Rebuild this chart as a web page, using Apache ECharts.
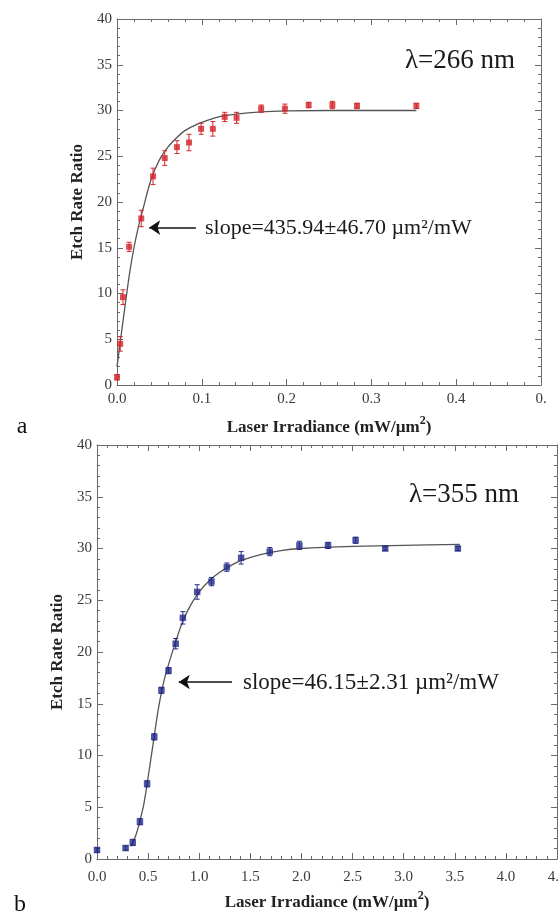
<!DOCTYPE html>
<html>
<head>
<meta charset="utf-8">
<script src="https://cdn.jsdelivr.net/npm/echarts@6/dist/echarts.min.js"></script>
<style>
html,body{margin:0;padding:0;background:#fff;}
#chart{width:559px;height:912px;}
</style>
</head>
<body>
<div id="chart"></div>
<script>
// ---- Panel a (λ = 266 nm) ----
const topX   = [0, 0.0038, 0.0071, 0.0143, 0.0286, 0.0425, 0.0563, 0.0707, 0.0849, 0.0992, 0.113, 0.127, 0.141, 0.170, 0.198, 0.226, 0.254, 0.283, 0.353];
const topY   = [0.85, 4.5, 9.6, 15.1, 18.2, 22.8, 24.8, 26.0, 26.5, 28.0, 28.0, 29.3, 29.2, 30.2, 30.2, 30.6, 30.6, 30.5, 30.5];
const topErr = [0.3, 0.8, 0.8, 0.5, 0.9, 0.9, 0.8, 0.7, 0.9, 0.6, 0.8, 0.5, 0.6, 0.4, 0.5, 0.3, 0.4, 0.3, 0.3];
const topFitX = [0, 0.005, 0.01, 0.015, 0.02, 0.025, 0.03, 0.04, 0.05, 0.06, 0.07, 0.08, 0.09, 0.10, 0.12, 0.14, 0.17, 0.20, 0.25, 0.30, 0.353];
const topFitY = [2.0, 5.5, 9.0, 12.3, 15.0, 17.2, 19.0, 22.4, 24.6, 26.0, 27.0, 27.8, 28.3, 28.7, 29.3, 29.6, 29.85, 29.95, 30.0, 30.0, 30.0];
const topXTicks = ['0.0', '0.1', '0.2', '0.3', '0.4', '0.'];

// ---- Panel b (λ = 355 nm) ----
const botX   = [0.0, 0.28, 0.35, 0.42, 0.49, 0.56, 0.63, 0.70, 0.77, 0.84, 0.98, 1.12, 1.27, 1.41, 1.69, 1.98, 2.26, 2.53, 2.82, 3.53];
const botY   = [0.87, 1.06, 1.6, 3.6, 7.26, 11.8, 16.3, 18.2, 20.8, 23.3, 25.8, 26.8, 28.2, 29.1, 29.7, 30.3, 30.3, 30.8, 30.0, 30.0];
const botErr = [0.2, 0.2, 0.3, 0.3, 0.3, 0.3, 0.3, 0.3, 0.5, 0.6, 0.7, 0.4, 0.4, 0.6, 0.4, 0.4, 0.3, 0.3, 0.2, 0.2];
const botFitX = [0.33, 0.38, 0.42, 0.46, 0.50, 0.55, 0.60, 0.65, 0.70, 0.77, 0.84, 0.92, 1.0, 1.1, 1.2, 1.3, 1.4, 1.6, 1.8, 2.0, 2.5, 3.0, 3.55];
const botFitY = [1.2, 2.3, 3.7, 5.4, 7.9, 11.2, 14.5, 17.0, 18.8, 21.0, 23.0, 24.6, 25.8, 26.9, 27.7, 28.3, 28.8, 29.4, 29.8, 30.0, 30.2, 30.3, 30.4];
const botXTicks = ['0.0', '0.5', '1.0', '1.5', '2.0', '2.5', '3.0', '3.5', '4.0', '4.5'];

const yTitle = 'Etch Rate Ratio';
const xTitle = 'Laser Irradiance (mW/µm{sup|2})';
const topLambda = 'λ=266 nm';
const botLambda = 'λ=355 nm';
const topSlope = 'slope=435.94±46.70 µm²/mW';
const botSlope = 'slope=46.15±2.31 µm²/mW';

const SERIF = '"Liberation Serif", "DejaVu Serif", serif';
const RED = '#d3262c';
const BLUE = '#232a88';
const AXIS = '#6a6a6a';

function zip(a, b, c) { return a.map((v, i) => c ? [v, b[i], c[i]] : [v, b[i]]); }

function errRender(color) {
  return function (params, api) {
    const x = api.value(0), y = api.value(1), e = api.value(2);
    const hi = api.coord([x, y + e]);
    const lo = api.coord([x, y - e]);
    const w = 2.5;
    const st = { stroke: color, lineWidth: 1 };
    return { type: 'group', children: [
      { type: 'line', shape: { x1: hi[0], y1: hi[1], x2: lo[0], y2: lo[1] }, style: st },
      { type: 'line', shape: { x1: hi[0] - w, y1: hi[1], x2: hi[0] + w, y2: hi[1] }, style: st },
      { type: 'line', shape: { x1: lo[0] - w, y1: lo[1], x2: lo[0] + w, y2: lo[1] }, style: st }
    ]};
  };
}

function xAxes(gridIndex, max, interval, labels, nameGap, labelMargin) {
  const common = {
    gridIndex, type: 'value', min: 0, max, interval,
    axisLine: { show: true, onZero: false, lineStyle: { color: AXIS, width: 1 } },
    axisTick: { show: true, inside: true, length: 6, lineStyle: { color: AXIS } },
    minorTick: { show: true, splitNumber: 5, length: 3, lineStyle: { color: AXIS } },
    splitLine: { show: false }
  };
  return [
    Object.assign({}, common, {
      position: 'bottom',
      axisLabel: { show: true, margin: labelMargin, fontFamily: SERIF, fontSize: 15, color: '#3a3a3a',
        hideOverlap: false, formatter: (v) => labels[Math.round(v / interval)] },
      name: xTitle, nameLocation: 'middle', nameGap,
      nameTextStyle: { fontFamily: SERIF, fontWeight: 'bold', fontSize: 17, color: '#222',
        rich: { sup: { fontFamily: SERIF, fontWeight: 'bold', fontSize: 12, color: '#222', verticalAlign: 'bottom', padding: [0, 0, 14, 0] } } }
    }),
    Object.assign({}, common, { position: 'top', axisLabel: { show: false } })
  ];
}

function yAxes(gridIndex, nameGap) {
  const common = {
    gridIndex, type: 'value', min: 0, max: 40, interval: 5,
    axisLine: { show: true, onZero: false, lineStyle: { color: AXIS, width: 1 } },
    axisTick: { show: true, inside: true, length: 6, lineStyle: { color: AXIS } },
    minorTick: { show: true, splitNumber: 5, length: 3, lineStyle: { color: AXIS } },
    splitLine: { show: false }
  };
  return [
    Object.assign({}, common, {
      position: 'left',
      axisLabel: { show: true, margin: 5, fontFamily: SERIF, fontSize: 15, color: '#3a3a3a' },
      name: yTitle, nameLocation: 'middle', nameGap, nameRotate: 90,
      nameTextStyle: { fontFamily: SERIF, fontWeight: 'bold', fontSize: 17, color: '#222' }
    }),
    Object.assign({}, common, { position: 'right', axisLabel: { show: false } })
  ];
}

const chart = echarts.init(document.getElementById('chart'), null, { renderer: 'canvas' });

const option = {
  animation: false,
  backgroundColor: '#fff',
  grid: [
    { left: 117, right: 18, top: 19, bottom: 527, containLabel: false, outerBoundsMode: 'none' },
    { left: 97, right: 2, top: 445, bottom: 53, containLabel: false, outerBoundsMode: 'none' }
  ],
  xAxis: [].concat(xAxes(0, 0.5, 0.1, topXTicks, 30, 7), xAxes(1, 4.5, 0.5, botXTicks, 31, 11)),
  yAxis: [].concat(yAxes(0, 30), yAxes(1, 28)),
  series: [
    { type: 'line', xAxisIndex: 0, yAxisIndex: 0, data: zip(topFitX, topFitY), smooth: 0.3,
      showSymbol: false, lineStyle: { color: '#555', width: 1.3 }, z: 2 },
    { type: 'custom', xAxisIndex: 0, yAxisIndex: 0, data: zip(topX, topY, topErr),
      renderItem: errRender(RED), z: 3 },
    { type: 'scatter', xAxisIndex: 0, yAxisIndex: 0, data: zip(topX, topY), symbol: 'rect',
      symbolSize: 6, itemStyle: { color: RED }, z: 4,
      markLine: { silent: true, symbol: ['none', 'arrow'], symbolSize: 11, label: { show: false },
        lineStyle: { color: '#111', width: 1.5, type: 'solid' },
        data: [[{ coord: [0.093, 17.2] }, { coord: [0.038, 17.2] }]] } },

    { type: 'line', xAxisIndex: 2, yAxisIndex: 2, data: zip(botFitX, botFitY), smooth: 0.3,
      showSymbol: false, lineStyle: { color: '#555', width: 1.3 }, z: 2 },
    { type: 'custom', xAxisIndex: 2, yAxisIndex: 2, data: zip(botX, botY, botErr),
      renderItem: errRender(BLUE), z: 3 },
    { type: 'scatter', xAxisIndex: 2, yAxisIndex: 2, data: zip(botX, botY), symbol: 'rect',
      symbolSize: 6.5, itemStyle: { color: BLUE }, z: 4,
      markLine: { silent: true, symbol: ['none', 'arrow'], symbolSize: 11, label: { show: false },
        lineStyle: { color: '#111', width: 1.5, type: 'solid' },
        data: [[{ coord: [1.32, 17.1] }, { coord: [0.80, 17.1] }]] } }
  ],
  graphic: [
    { type: 'text', x: 460, y: 61, style: { text: topLambda, font: '27px ' + SERIF, fill: '#1a1a1a', textAlign: 'center', textVerticalAlign: 'middle' } },
    { type: 'text', x: 205, y: 228, style: { text: topSlope, font: '22px ' + SERIF, fill: '#1a1a1a', textAlign: 'left', textVerticalAlign: 'middle' } },
    { type: 'text', x: 464, y: 495, style: { text: botLambda, font: '27px ' + SERIF, fill: '#1a1a1a', textAlign: 'center', textVerticalAlign: 'middle' } },
    { type: 'text', x: 243, y: 683, style: { text: botSlope, font: '23px ' + SERIF, fill: '#1a1a1a', textAlign: 'left', textVerticalAlign: 'middle' } },
    { type: 'text', x: 22, y: 427, style: { text: 'a', font: '24px ' + SERIF, fill: '#111', textAlign: 'center', textVerticalAlign: 'middle' } },
    { type: 'text', x: 20, y: 905, style: { text: 'b', font: '24px ' + SERIF, fill: '#111', textAlign: 'center', textVerticalAlign: 'middle' } }
  ]
};
chart.setOption(option);
</script>
</body>
</html>
